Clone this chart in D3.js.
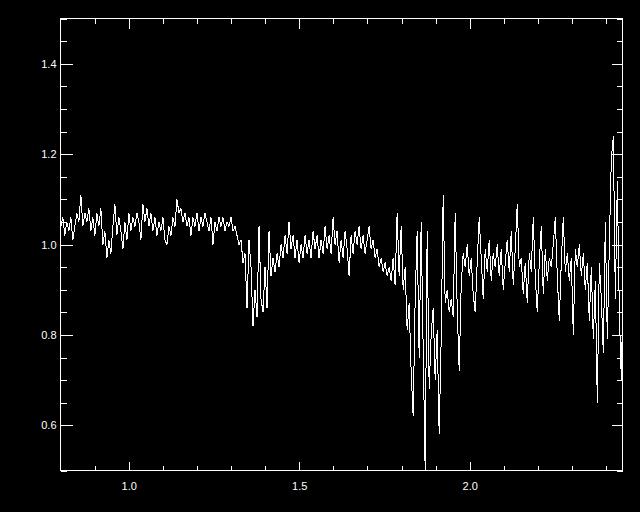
<!DOCTYPE html>
<html>
<head>
<meta charset="utf-8">
<script src="https://cdn.jsdelivr.net/npm/d3@7/dist/d3.min.js"></script>
<style>
  html, body { margin: 0; padding: 0; background: #000; }
  svg { display: block; }
</style>
</head>
<body>
<svg id="chart" width="640" height="512"></svg>
<script>
// Spectrum sampling (wavelength grid, microns)
const waveStart = 0.801;
const waveStep = 0.00587;

// Normalised flux values
const flux = [
  1.04, 1.06, 1.02, 1.05, 1.03, 1.06, 1.01, 1.04, 1.07, 1.05,
  1.11, 1.04, 1.07, 1.05, 1.08, 1.03, 1.06, 1.02, 1.07, 1.04,
  1.08, 1.00, 1.03, 0.97, 1.01, 0.98, 1.04, 1.09, 1.02, 1.06,
  1.03, 0.99, 1.05, 1.01, 1.07, 1.03, 1.06, 1.04, 1.07, 1.05,
  1.01, 1.09, 1.05, 1.08, 1.04, 1.07, 1.03, 1.06, 1.02, 1.05,
  1.03, 1.06, 1.01, 1.00, 1.04, 1.02, 1.06, 1.04, 1.10, 1.07,
  1.08, 1.05, 1.07, 1.04, 1.06, 1.02, 1.06, 1.04, 1.07, 1.03,
  1.06, 1.04, 1.07, 1.05, 1.03, 1.06, 1.00, 1.05, 1.03, 1.06,
  1.04, 1.06, 1.03, 1.05, 1.04, 1.06, 1.03, 1.04, 1.02, 1.00,
  1.01, 0.96, 0.98, 0.86, 1.01, 0.95, 0.82, 0.90, 0.84, 1.04,
  0.88, 0.85, 0.95, 0.86, 1.03, 0.93, 0.97, 0.94, 0.98, 0.95,
  1.00, 0.97, 1.02, 0.98, 1.05, 0.99, 1.02, 0.97, 1.01, 0.96,
  1.00, 0.97, 1.02, 0.98, 1.01, 0.97, 1.03, 0.99, 1.02, 0.97,
  1.01, 0.98, 1.04, 0.99, 1.02, 0.98, 1.06, 1.00, 1.03, 0.96,
  1.01, 0.97, 1.03, 0.99, 0.93, 1.02, 0.98, 1.03, 1.00, 1.04,
  0.99, 1.02, 0.98, 1.01, 1.04, 0.99, 1.01, 0.97, 0.99, 0.95,
  0.97, 0.94, 0.96, 0.93, 0.95, 0.92, 0.97, 0.91, 1.07, 0.93,
  1.04, 0.90, 0.95, 0.81, 0.87, 0.72, 0.62, 0.88, 1.03, 0.75,
  1.05, 0.77, 0.50, 1.03, 0.68, 0.80, 0.86, 0.70, 0.81, 0.58,
  0.79, 1.11, 0.87, 0.90, 0.85, 0.88, 0.84, 1.07, 0.86, 0.72,
  0.91, 0.98, 0.95, 1.00, 0.93, 0.97, 0.89, 0.85, 0.96, 1.06,
  0.97, 0.88, 0.99, 0.94, 1.01, 0.92, 0.98, 0.95, 1.00, 0.93,
  0.99, 0.90, 0.96, 1.01, 0.94, 1.03, 0.91, 0.99, 1.09, 0.95,
  0.97, 0.89, 0.96, 0.87, 0.98, 0.94, 1.06, 0.93, 0.85, 0.96,
  1.04, 0.89, 0.99, 0.92, 0.97, 0.95, 1.00, 1.06, 0.93, 0.83,
  0.96, 1.06, 0.94, 0.98, 0.92, 0.97, 0.80, 0.99, 0.95, 1.00,
  0.93, 0.98, 0.90, 0.96, 0.83, 0.95, 0.79, 0.92, 0.65, 0.96,
  0.88, 0.76, 1.05, 0.79, 1.00, 1.19, 1.24, 0.88, 1.14, 0.85,
  0.70, 0.95
];

// Axis tick values
const xMajorTicks = [1.0, 1.5, 2.0];
const xMinorTicks = [0.9, 1.1, 1.2, 1.3, 1.4, 1.6, 1.7, 1.8, 1.9, 2.1, 2.2, 2.3, 2.4];
const yMajorTicks = [0.6, 0.8, 1.0, 1.2, 1.4];
const yMinorTicks = [0.5, 0.65, 0.7, 0.75, 0.85, 0.9, 0.95, 1.05, 1.1, 1.15, 1.25, 1.3, 1.35, 1.45, 1.5];

const data = flux.map((v, i) => ({ w: waveStart + i * waveStep, f: v }));

const L = 60.5, R = 622.5, T = 18.5, B = 470.5;
const x = d3.scaleLinear().domain([0.8, 2.448]).range([L, R]);
const y = d3.scaleLinear().domain([0.5, 1.5]).range([B, T]);

const svg = d3.select("#chart");
svg.append("rect").attr("width", 640).attr("height", 512).attr("fill", "#000");

svg.append("clipPath").attr("id", "clip")
  .append("rect").attr("x", L).attr("y", T).attr("width", R - L).attr("height", B - T);

const line = d3.line().x(d => x(d.w)).y(d => y(d.f));
svg.append("path")
  .datum(data)
  .attr("clip-path", "url(#clip)")
  .attr("fill", "none")
  .attr("stroke", "#fff")
  .attr("stroke-width", 1)
  .attr("shape-rendering", "crispEdges")
  .attr("d", line);

// Axes (IDL style: ticks inside on all four sides)
const fmt = d3.format(".1f");
function styleAxis(g) {
  g.select(".domain").remove();
  g.selectAll("line").attr("stroke", "#fff").attr("shape-rendering", "crispEdges");
  g.selectAll("text").attr("fill", "#fff")
    .style("font-family", "'Liberation Sans', Arial, sans-serif")
    .style("font-size", "11px");
}

// bottom
svg.append("g").attr("transform", `translate(0,${B})`)
  .call(d3.axisTop(x).tickValues(xMajorTicks).tickSize(9).tickFormat(""))
  .call(styleAxis);
svg.append("g").attr("transform", `translate(0,${B})`)
  .call(d3.axisTop(x).tickValues(xMinorTicks).tickSize(5).tickFormat(""))
  .call(styleAxis);
svg.append("g").attr("transform", `translate(0,${B})`)
  .call(d3.axisBottom(x).tickValues(xMajorTicks).tickSize(0).tickPadding(12).tickFormat(fmt))
  .call(styleAxis);
// top
svg.append("g").attr("transform", `translate(0,${T})`)
  .call(d3.axisBottom(x).tickValues(xMajorTicks).tickSize(10).tickFormat(""))
  .call(styleAxis);
svg.append("g").attr("transform", `translate(0,${T})`)
  .call(d3.axisBottom(x).tickValues(xMinorTicks).tickSize(5).tickFormat(""))
  .call(styleAxis);
// left
svg.append("g").attr("transform", `translate(${L},0)`)
  .call(d3.axisRight(y).tickValues(yMajorTicks).tickSize(12).tickFormat(""))
  .call(styleAxis);
svg.append("g").attr("transform", `translate(${L},0)`)
  .call(d3.axisRight(y).tickValues(yMinorTicks).tickSize(6).tickFormat(""))
  .call(styleAxis);
svg.append("g").attr("transform", `translate(${L},0)`)
  .call(d3.axisLeft(y).tickValues(yMajorTicks).tickSize(0).tickPadding(4).tickFormat(fmt))
  .call(styleAxis);
// right
svg.append("g").attr("transform", `translate(${R},0)`)
  .call(d3.axisLeft(y).tickValues(yMajorTicks).tickSize(11).tickFormat(""))
  .call(styleAxis);
svg.append("g").attr("transform", `translate(${R},0)`)
  .call(d3.axisLeft(y).tickValues(yMinorTicks).tickSize(6).tickFormat(""))
  .call(styleAxis);

// frame
svg.append("rect")
  .attr("x", L).attr("y", T).attr("width", R - L).attr("height", B - T)
  .attr("fill", "none").attr("stroke", "#fff").attr("stroke-width", 1)
  .attr("shape-rendering", "crispEdges");
</script>
</body>
</html>
